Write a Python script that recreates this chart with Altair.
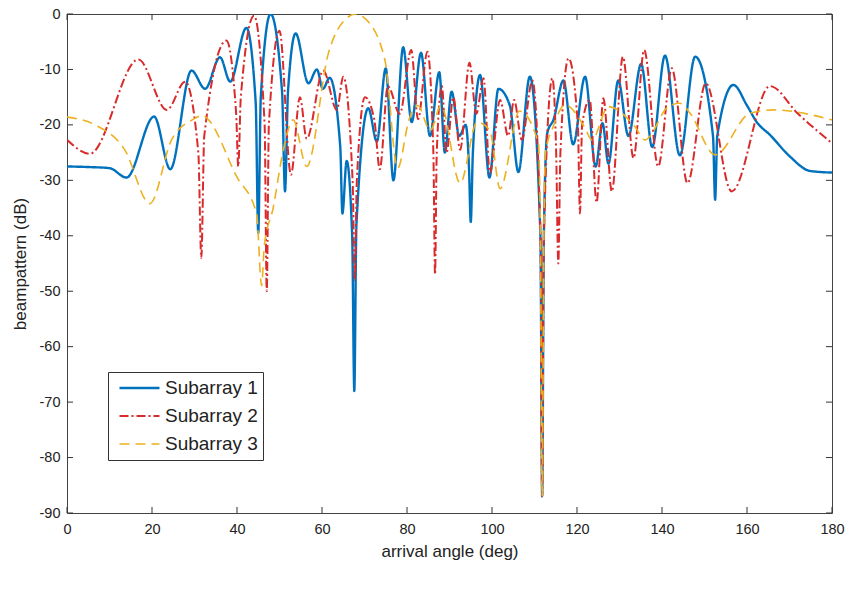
import altair as alt
import pandas as pd

# ---- data ----
s1_x = [0, 5, 10, 14, 20.5, 24.3, 29.3, 32.5, 36, 38.4, 42.2, 44.4, 45, 45.6, 47.9, 50.6, 51.3, 52.0,
        53.8, 56.8, 58.8, 60.2, 61.8, 64.3, 64.8, 65.8, 67.1, 67.6, 68.1, 70.9, 72.9, 75, 76.8, 79.1,
        81.1, 83.3, 85.4, 87.6, 88.9, 90.5, 92.3, 93.8, 94.6, 95, 95.5, 97.2, 99.4, 101.5, 104.2, 106.2,
        108.9, 111.4, 111.8, 112.2, 113, 114.5, 116.8, 119.1, 121.9, 124.4, 126, 127.4, 129.7, 132.1,
        135.1, 137.7, 140.7, 144.2, 147.8, 152.0, 152.5, 153.0, 156.8, 160, 162.3, 165.4, 170.1, 174.8, 180]
s1_y = [-27.5, -27.6, -27.8, -29.5, -18.5, -28, -10.2, -13.5, -7.8, -12.2, -2.5, -16, -39.5, -15, 0, -14, -32, -14,
        -3.5, -12.5, -10, -13.5, -11.5, -24, -36, -26.5, -40, -68, -38, -17, -23, -9.8, -30, -6,
        -19.5, -7, -22, -10.5, -25, -14, -22, -20, -28, -37.5, -25, -11, -29.5, -13.5, -16.5, -28.5,
        -11.3, -40, -87, -40, -21.5, -19, -12, -23.5, -11.3, -27.5, -19.7, -27, -12, -22,
        -9, -24, -7.5, -25.5, -7.7, -22, -33.5, -22, -12.8, -16.5, -19.5, -21.8, -25.7, -28.3, -28.6]

s2_x = [0, 5.4, 16.8, 23.5, 27.8, 30.9, 31.6, 32.3, 37.5, 39.8, 40.3, 40.9, 44, 46.5, 47, 47.5, 50,
        52.7, 54.8, 56.4, 60.3, 63.5, 65, 67.2, 67.7, 68.2, 70.1, 72.3, 73.6, 75.5, 78.3, 81, 82.6,
        84.8, 86.2, 86.6, 87.0, 88.2, 89.3, 90.9, 92.5, 94.7, 96.3, 98, 99.5, 101.9, 103.8, 105.2,
        107, 109.5, 111.4, 111.8, 112.2, 114.2, 115.1, 115.6, 116.1, 118, 120.2, 120.7, 121.2, 123,
        124.6, 126.2, 128.2, 130.8, 133.3, 135.8, 139.1, 142.3, 146, 150.3, 156.4, 165.4, 172, 180]
s2_y = [-22.7, -25.2, -8.2, -17.3, -12.2, -25, -44, -22, -4.8, -18, -27.5, -15, -0.3, -20, -50, -20, -3,
        -29, -15, -22.5, -10.2, -17.3, -11.3, -30, -48, -30, -15, -19, -28, -13, -18, -6.5, -19,
        -6.8, -25, -47, -25, -13, -25, -15, -24.5, -8.8, -18, -11.6, -28.7, -15.5, -22, -15.5,
        -22.7, -12, -40, -87, -40, -11.6, -25, -45, -25, -8, -20, -36, -20, -15.5,
        -34, -15.2, -32, -7.7, -26, -6.5, -27.5, -9.8, -30.5, -12.5, -32, -13, -18, -23.3]

s3_x = [0, 6.6, 13.6, 19.5, 24.6, 29.7, 32, 33.2, 39.9, 44.6, 45.8, 46.4, 48.5, 50.9, 53.2, 56.4,
        61.5, 66.2, 67.8, 70.1, 74.8, 77.8, 80.5, 82.5, 85.5, 88, 92.5, 96.5, 99.5, 101.9, 106.5,
        110.9, 111.4, 111.8, 112.2, 112.6, 114.4, 117.2, 121.9, 123.5, 127.4, 133.6, 136, 141.5,
        144.2, 146.6, 152.5, 160.7, 166.2, 180]
s3_y = [-18.6, -20, -24.5, -34.2, -22.7, -19, -18.3, -19, -29.3, -36, -49, -42, -35, -24.5, -19.1, -27.5,
        -7.1, -0.5, 0, -0.8, -8.3, -27.8, -19, -16.5, -21, -16.5, -30.5, -19.5, -21, -31.5, -17.5,
        -23.3, -40, -87, -40, -25, -20.3, -16.4, -20.6, -22.7, -16.7, -20.3, -22.7, -16.7,
        -16.1, -17.9, -25.4, -17.9, -17.3, -19.1]

series_names = ["Subarray 1", "Subarray 2", "Subarray 3"]
series_colors = ["#0072BD", "#D92B2B", "#EDB120"]
series_dash = [[1, 0], [9, 3, 2, 3], [10, 6]]
series_width = [2.4, 1.6, 1.6]

x_ticks = [0, 20, 40, 60, 80, 100, 120, 140, 160, 180]
y_ticks = [0, -10, -20, -30, -40, -50, -60, -70, -80, -90]

rows = []
for name, xs, ys in zip(series_names, [s1_x, s2_x, s3_x], [s1_y, s2_y, s3_y]):
    for i, (a, b) in enumerate(zip(xs, ys)):
        rows.append({"angle": a, "db": b, "series": name, "idx": i})
df = pd.DataFrame(rows)

W, H = 765, 499
FONT = "Liberation Sans"

xscale = alt.Scale(domain=[0, 180], nice=False, zero=False)
yscale = alt.Scale(domain=[-90, 0], nice=False, zero=False)

legend_kw = dict(title=None, orient="none", legendX=41, legendY=358,
                 symbolType="stroke", symbolSize=1600, symbolStrokeWidth=2.2,
                 labelFontSize=19, labelFont=FONT, labelColor="#222",
                 padding=5, rowPadding=6, clipHeight=22, labelOffset=4, symbolOffset=5,
                 strokeColor="#333", fillColor="white")

lines = alt.Chart(df).mark_line(interpolate="monotone", clip=True).encode(
    x=alt.X("angle:Q", scale=xscale,
            axis=alt.Axis(values=x_ticks, title="arrival angle (deg)", ticks=False, domain=False,
                          grid=False, labelPadding=9, titlePadding=8, labelFlush=False,
                          labelExpr="toString(datum.value)")),
    y=alt.Y("db:Q", scale=yscale,
            axis=alt.Axis(values=y_ticks, title="beampattern (dB)", ticks=False, domain=False,
                          grid=False, labelPadding=7, titlePadding=10, labelFlush=False,
                          labelExpr="toString(datum.value)")),
    color=alt.Color("series:N", scale=alt.Scale(domain=series_names, range=series_colors),
                    legend=alt.Legend(**legend_kw)),
    strokeDash=alt.StrokeDash("series:N", scale=alt.Scale(domain=series_names, range=series_dash),
                              legend=alt.Legend(**legend_kw)),
    strokeWidth=alt.StrokeWidth("series:N", scale=alt.Scale(domain=series_names, range=series_width),
                                legend=None),
    order="idx:Q",
)

xt = pd.DataFrame({"t": x_ticks})
yt = pd.DataFrame({"t": y_ticks})
tick_col = "#333333"
xb = alt.Chart(xt).mark_rule(color=tick_col, strokeWidth=1).encode(
    x=alt.X("t:Q", scale=xscale), y=alt.value(H), y2=alt.value(H - 6))
xtop = alt.Chart(xt).mark_rule(color=tick_col, strokeWidth=1).encode(
    x=alt.X("t:Q", scale=xscale), y=alt.value(0), y2=alt.value(6))
yl = alt.Chart(yt).mark_rule(color=tick_col, strokeWidth=1).encode(
    y=alt.Y("t:Q", scale=yscale), x=alt.value(0), x2=alt.value(6))
yr = alt.Chart(yt).mark_rule(color=tick_col, strokeWidth=1).encode(
    y=alt.Y("t:Q", scale=yscale), x=alt.value(W), x2=alt.value(W - 6))

chart = alt.layer(xb, xtop, yl, yr, lines).properties(
    width=W, height=H,
    autosize=alt.AutoSizeParams(type="none"),
    padding={"left": 67, "top": 14, "right": 17, "bottom": 80},
    background="white",
).configure_view(
    stroke="#444444", strokeWidth=1
).configure_axis(
    labelFont=FONT, titleFont=FONT, labelFontSize=14.5, titleFontSize=17,
    titleFontWeight="normal", labelColor="#222222", titleColor="#222222"
)

chart.save("out.html", embed_options={"renderer": "svg", "actions": False})
